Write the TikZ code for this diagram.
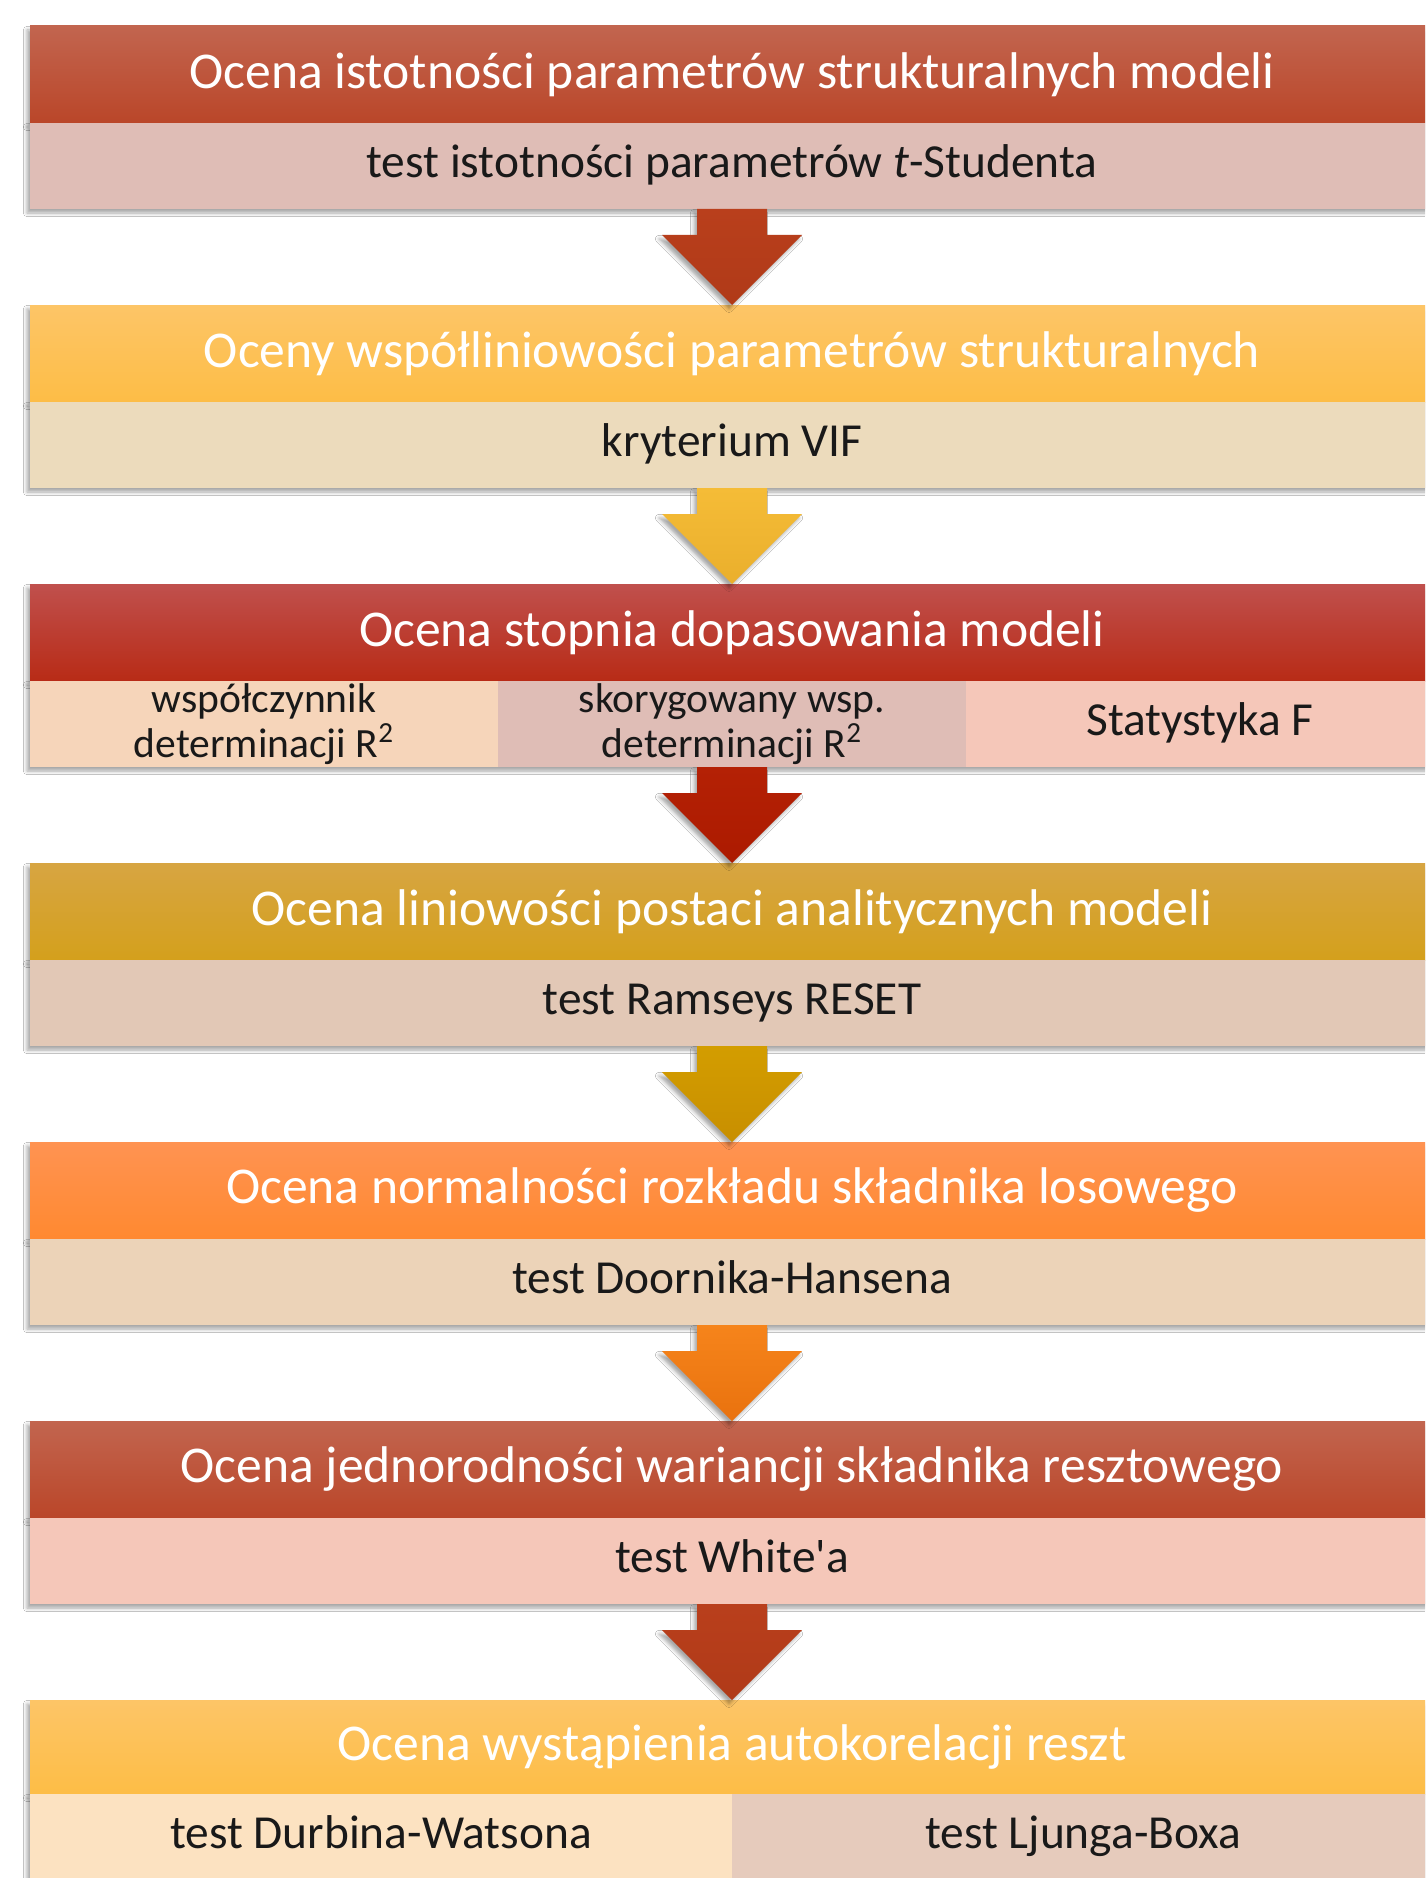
\documentclass[tikz,border=0pt]{standalone}
\usepackage{fontspec}
\setmainfont{Carlito}
\usetikzlibrary{positioning,calc,shadows.blur}

\definecolor{rustA}{HTML}{C2654F}
\definecolor{rustB}{HTML}{BA4629}
\definecolor{sunA}{HTML}{FDC567}
\definecolor{sunB}{HTML}{FDBD46}
\definecolor{redA}{HTML}{C0504D}
\definecolor{redB}{HTML}{B82B16}
\definecolor{goldA}{HTML}{D7A542}
\definecolor{goldB}{HTML}{D4A01C}
\definecolor{orA}{HTML}{FF9352}
\definecolor{orB}{HTML}{FF8930}
\definecolor{subRose}{HTML}{DFBDB6}
\definecolor{subSand}{HTML}{ECDBBC}
\definecolor{subPeach}{HTML}{F6D5BA}
\definecolor{subSalmon}{HTML}{F5C7B9}
\definecolor{subTan}{HTML}{E2C8B6}
\definecolor{subBeige}{HTML}{ECD3B8}
\definecolor{subCream}{HTML}{FCE2C1}
\definecolor{subMocha}{HTML}{E6CBBC}
\definecolor{arRustA}{HTML}{B93F1C}
\definecolor{arRustB}{HTML}{B03A18}
\definecolor{arSunA}{HTML}{F5BC37}
\definecolor{arSunB}{HTML}{EAAF2C}
\definecolor{arRedA}{HTML}{B42105}
\definecolor{arRedB}{HTML}{AC1A00}
\definecolor{arGoldA}{HTML}{D39D00}
\definecolor{arGoldB}{HTML}{C88F00}
\definecolor{arOrA}{HTML}{F6841B}
\definecolor{arOrB}{HTML}{E9720E}

\tikzset{
	boxshadow/.style={blur shadow={shadow xshift=-1.5pt,shadow yshift=-2pt,shadow blur radius=1.8pt,shadow opacity=35}},
	head/.style 2 args={boxshadow,top color=#1,bottom color=#2,minimum width=702pt,minimum height=48.5pt,inner sep=0pt,outer sep=0pt,text=white,font=\fontsize{25.8}{30}\selectfont},
	sub/.style={boxshadow,fill=#1,minimum width=702pt,minimum height=43pt,inner sep=0pt,outer sep=0pt,text height=17pt,text depth=5.5pt,text=black!90,font=\fontsize{23.7}{27}\selectfont},
	cell/.style 2 args={fill=#1,minimum width=#2,minimum height=43pt,inner sep=0pt,outer sep=0pt,align=center,text=black!90,font=\fontsize{20.8}{22.5}\selectfont},
	oneline/.style={text height=17pt,text depth=5.5pt,font=\fontsize{23.7}{27}\selectfont},
	blockarrow/.style 2 args={top color=#1,bottom color=#2,boxshadow}
}

% block arrow from the bottom of one box to the top of the next
\newcommand{\stepArrow}[4]{%
	\path[blockarrow={#3}{#4}] ($(#1.south)+(-35,0)$) -- ($(#2.north)+(-35,-70)$) -- ($(#2.north)+(-70,-70)$) -- (#2.north)
	-- ($(#2.north)+(70,-70)$) -- ($(#2.north)+(35,-70)$) -- ($(#1.south)+(35,0)$) -- cycle;}

\begin{document}
\begin{tikzpicture}[x=0.5pt,y=-0.5pt]
	\clip (0,0) rectangle (1425,1878);
	\fill[white] (0,0) rectangle (1425,1878);

	\node[head={rustA}{rustB},anchor=north west] (h1) at (30,26) {Ocena istotności parametrów strukturalnych modeli};
	\node[sub=subRose,below=0pt of h1] (s1) {test istotności parametrów \textit{t}-Studenta};

	\node[head={sunA}{sunB},below=48pt of s1] (h2) {Oceny współliniowości parametrów strukturalnych};
	\node[sub=subSand,below=0pt of h2] (s2) {kryterium VIF};

	\node[head={redA}{redB},below=48pt of s2] (h3) {Ocena stopnia dopasowania modeli};
	\path[boxshadow,fill=white] (h3.south west) rectangle ++(1404,86);
	\node[cell={subPeach}{234pt},anchor=north west] (c3a) at (h3.south west) {współczynnik\\determinacji R\textsuperscript{2}};
	\node[cell={subRose}{234pt},right=0pt of c3a] (c3b) {skorygowany wsp.\\determinacji R\textsuperscript{2}};
	\node[cell={subSalmon}{234pt},oneline,right=0pt of c3b] (c3c) {Statystyka F};

	\node[head={goldA}{goldB},below=48pt of c3b] (h4) {Ocena liniowości postaci analitycznych modeli};
	\node[sub=subTan,below=0pt of h4] (s4) {test Ramseys RESET};

	\node[head={orA}{orB},below=48pt of s4] (h5) {Ocena normalności rozkładu składnika losowego};
	\node[sub=subBeige,below=0pt of h5] (s5) {test Doornika-Hansena};

	\node[head={rustA}{rustB},below=48pt of s5] (h6) {Ocena jednorodności wariancji składnika resztowego};
	\node[sub=subSalmon,below=0pt of h6] (s6) {test White\textquotesingle a};

	\node[head={sunA}{sunB},below=48pt of s6,minimum height=47pt] (h7) {Ocena wystąpienia autokorelacji reszt};
	\path[boxshadow,fill=white] (h7.south west) rectangle ++(1404,86);
	\node[cell={subCream}{351pt},oneline,anchor=north west] (c7a) at (h7.south west) {test Durbina-Watsona};
	\node[cell={subMocha}{351pt},oneline,right=0pt of c7a] (c7b) {test Ljunga-Boxa};

	\stepArrow{s1}{h2}{arRustA}{arRustB}
	\stepArrow{s2}{h3}{arSunA}{arSunB}
	\stepArrow{c3b}{h4}{arRedA}{arRedB}
	\stepArrow{s4}{h5}{arGoldA}{arGoldB}
	\stepArrow{s5}{h6}{arOrA}{arOrB}
	\stepArrow{s6}{h7}{arRustA}{arRustB}
\end{tikzpicture}
\end{document}
